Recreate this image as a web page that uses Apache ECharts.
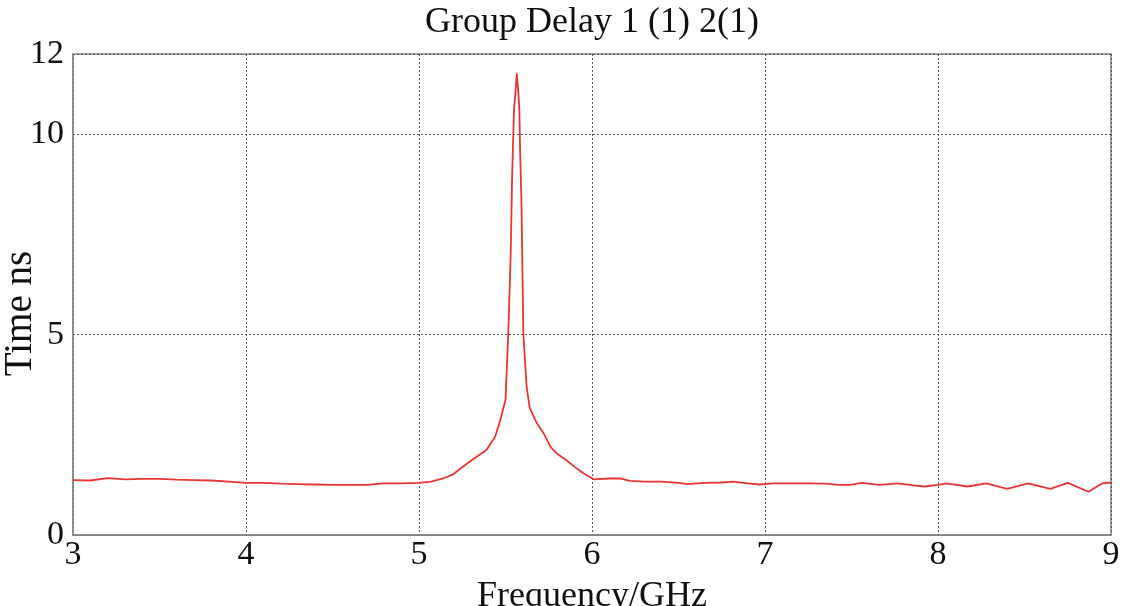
<!DOCTYPE html>
<html>
<head>
<meta charset="utf-8">
<script src="https://cdn.jsdelivr.net/npm/echarts@6/dist/echarts.min.js"></script>
<style>html,body{margin:0;padding:0;background:#fff;}#c{width:1125px;height:606px;}</style>
</head>
<body>
<div id="c"></div>
<script>
const titleText = "Group Delay 1 (1) 2(1)";
const xName = "Frequency/GHz";
const yName = "Time ns";
const freqGHz = [3.00,3.10,3.20,3.30,3.40,3.50,3.60,3.70,3.80,3.90,4.00,4.10,4.20,4.30,4.40,4.50,4.60,4.70,4.75,4.80,4.90,5.00,5.07,5.14,5.20,5.24,5.30,5.39,5.44,5.47,5.50,5.516,5.530,5.538,5.549,5.558,5.565,5.574,5.580,5.585,5.592,5.603,5.622,5.64,5.68,5.72,5.76,5.80,5.85,5.90,5.95,6.01,6.10,6.16,6.22,6.30,6.40,6.50,6.55,6.65,6.75,6.815,6.90,6.97,7.05,7.15,7.25,7.35,7.43,7.49,7.56,7.66,7.77,7.86,7.92,8.00,8.05,8.17,8.28,8.40,8.52,8.65,8.75,8.87,8.95,9.00];
const delayNs = [1.37,1.36,1.42,1.39,1.40,1.40,1.38,1.37,1.36,1.33,1.30,1.30,1.28,1.27,1.26,1.25,1.25,1.25,1.27,1.29,1.29,1.30,1.33,1.41,1.52,1.66,1.85,2.12,2.45,2.87,3.37,5.04,7.0,8.9,10.6,11.06,11.52,11.06,10.6,9.5,8.36,5.04,3.70,3.17,2.80,2.54,2.20,2.02,1.87,1.70,1.54,1.39,1.41,1.41,1.35,1.33,1.33,1.30,1.27,1.30,1.31,1.33,1.29,1.26,1.29,1.29,1.29,1.28,1.25,1.25,1.30,1.25,1.29,1.24,1.21,1.25,1.29,1.21,1.29,1.15,1.29,1.15,1.30,1.08,1.29,1.31];
const xTicks = [3,4,5,6,7,8,9];
const yTicks = [0,5,10,12];

const font = "'Liberation Serif','Times New Roman',serif";
const chart = echarts.init(document.getElementById('c'));
chart.setOption({
  animation: false,
  title: {text: titleText, left: 425, top: 5, padding: 0,
    textStyle: {fontFamily: font, fontSize: 36, fontWeight: 'normal', color: '#111'}},
  grid: {left: 73, right: 14, top: 54, bottom: 71, show: true, borderColor: '#888', borderWidth: 1.5,
    containLabel: false, outerBoundsMode: 'none'},
  xAxis: {
    type: 'value', min: 3, max: 9, interval: 1,
    name: xName, nameLocation: 'middle', nameGap: 44, nameMoveOverlap: false,
    nameTextStyle: {fontFamily: font, fontSize: 36, color: '#111'},
    axisLine: {show: true, lineStyle: {color: '#888', width: 1.5}},
    axisTick: {show: false},
    axisLabel: {fontFamily: font, fontSize: 34, color: '#111', margin: 3,
      customValues: xTicks},
    splitLine: {show: true, lineStyle: {color: '#555', type: [2, 2], width: 1}}
  },
  yAxis: {
    type: 'value', min: 0, max: 12, interval: 5,
    name: yName, nameLocation: 'middle', nameGap: 33, nameRotate: 90, nameMoveOverlap: false,
    nameTextStyle: {fontFamily: font, fontSize: 39, color: '#111', padding: [0, 38, 0, 0]},
    axisLine: {show: true, lineStyle: {color: '#888', width: 1.5}},
    axisTick: {show: false},
    axisLabel: {fontFamily: font, fontSize: 34, color: '#111', margin: 9,
      customValues: yTicks},
    splitLine: {show: true, lineStyle: {color: '#555', type: [2, 2], width: 1}}
  },
  series: [{
    type: 'line', showSymbol: false, symbol: 'none',
    data: freqGHz.map((f, i) => [f, delayNs[i]]),
    lineStyle: {color: '#e83535', width: 1.8}
  }]
});
</script>
</body>
</html>
